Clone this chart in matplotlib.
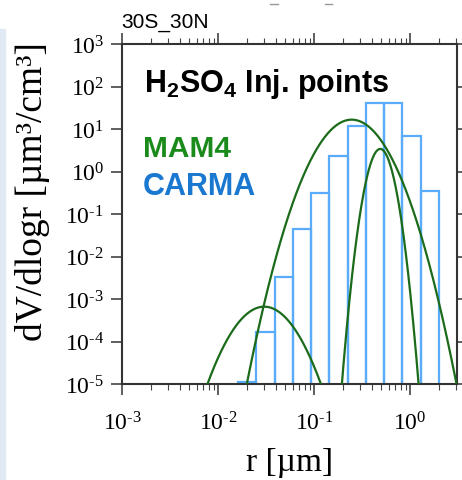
import numpy as np
import matplotlib.pyplot as plt
from matplotlib.patches import Rectangle
from matplotlib.lines import Line2D
from matplotlib.ticker import FuncFormatter

plt.rcParams['font.family'] = ['Liberation Serif', 'DejaVu Serif']
plt.rcParams['mathtext.fontset'] = 'custom'
plt.rcParams['mathtext.rm'] = 'Liberation Sans:bold'
plt.rcParams['mathtext.bf'] = 'Liberation Sans:bold'

# CARMA bins (radius edges, um) and dV/dlogr
bin_edges = [0.0162, 0.0251, 0.0389, 0.0603, 0.0933, 0.1445, 0.224,
             0.347, 0.537, 0.832, 1.288, 1.995]
carma_dv = [1.1e-5, 1.65e-4, 3.3e-3, 0.044, 0.32, 2.35, 12.0, 40.0, 40.0,
            6.7, 0.35]

# MAM4 modes: median radius [um], geometric std, peak dV/dlogr
mode_rmed = [0.0303, 0.247, 0.49]
mode_sigma = [1.6, 1.6, 1.2]
mode_peak = [6.6e-4, 16.6, 3.4]

x_ticks = [1e-3, 1e-2, 1e-1, 1e0]
y_ticks = [1e-5, 1e-4, 1e-3, 1e-2, 1e-1, 1e0, 1e1, 1e2, 1e3]


def pow10(v, pos):
    e = int(round(np.log10(v)))
    return r'$\mathdefault{10^{%s}}$' % str(e).replace('-', '\u2010')


fig = plt.figure(figsize=(4.62, 4.81), dpi=100)
fig.patches.append(Rectangle((0, 0), 5/462, 1 - 30/481, transform=fig.transFigure,
                             color='#e1eaf4', zorder=0))
for x0, x1 in [(270, 278), (325, 332)]:
    fig.add_artist(Line2D([x0/462, x1/462], [1 - 5/481, 1 - 5/481], color='#999999', lw=1))

ax = fig.add_axes([122/462, 1 - 385/481, (457 - 122)/462, (385 - 45)/481])

# histogram (CARMA)
edges = np.array(bin_edges)
ax.bar(edges[:-1], carma_dv, width=np.diff(edges), align='edge', bottom=1e-7,
       fill=False, edgecolor='#5aacf8', linewidth=1.6, zorder=2)

# lognormal modes (MAM4)
r = np.logspace(-3, 0.6, 600)
for rm, sg, pk in zip(mode_rmed, mode_sigma, mode_peak):
    dv = pk*np.exp(-(np.log(r/rm))**2/(2*np.log(sg)**2))
    ax.plot(r, dv, color='#1b6b1b', lw=1.6, zorder=3)

ax.set_xscale('log')
ax.set_yscale('log')
ax.set_xlim(1e-3, 10**0.49)
ax.set_ylim(1e-5, 1e3)
ax.set_xticks(x_ticks)
ax.set_yticks(y_ticks)
ax.xaxis.set_major_formatter(FuncFormatter(pow10))
ax.yaxis.set_major_formatter(FuncFormatter(pow10))
ax.tick_params(which='both', direction='out', top=True, right=True,
               labelsize=17, color='#444444', pad=5)
ax.tick_params(which='major', length=8, width=1.2)
ax.tick_params(which='minor', length=4, width=0.8)
ax.tick_params(axis='x', pad=12)
for s in ax.spines.values():
    s.set_color('#333333')
    s.set_linewidth(1.5)

fig.text(290/462, 1 - 463/481, 'r [µm]', fontsize=24, ha='center', va='center')
fig.text(33/462, 1 - 192/481, 'dV/dlogr [µm³/cm³]', fontsize=27, rotation=90,
         ha='center', va='center')

ax.text(0.066, 0.862, r'$\mathbf{H_2SO_4}$ Inj. points', transform=ax.transAxes,
        fontsize=22, fontweight='bold', family='Liberation Sans', va='baseline')
ax.text(0.063, 0.671, 'MAM4', transform=ax.transAxes, color='#1a8a1a',
        fontsize=21.5, fontweight='bold', family='Liberation Sans', va='baseline')
ax.text(0.063, 0.559, 'CARMA', transform=ax.transAxes, color='#1a78d0',
        fontsize=22, fontweight='bold', family='Liberation Sans', va='baseline')

fig.text(121/462, 1 - 28/481, '30S_30N', fontsize=15, family='Liberation Sans',
         va='baseline')

fig.savefig('out.png', dpi=100)
